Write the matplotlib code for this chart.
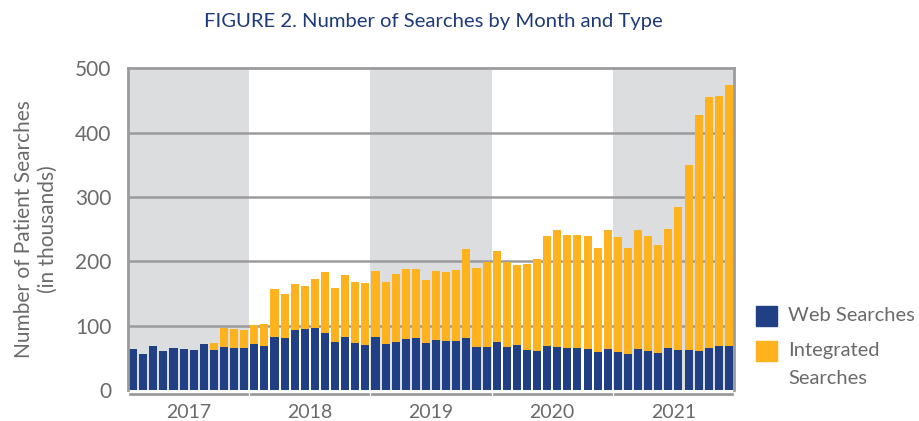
import matplotlib

matplotlib.use("Agg")
import matplotlib.pyplot as plt
from matplotlib.lines import Line2D
from matplotlib.patches import Rectangle
import numpy as np

years = ["2017", "2018", "2019", "2020", "2021"]

# total searches per month (thousands)
total = [
    64, 56.5, 69, 61, 66, 64, 63, 72, 73, 97, 95, 94,
    101, 103, 157.5, 150, 165, 162, 173, 184, 159, 179, 168, 167,
    185.5, 168, 181, 188.6, 188.6, 171.5, 185.5, 184, 187, 220, 190, 199.5,
    216.5, 199.5, 195, 196, 204, 240, 249, 241.5, 241.5, 240, 221, 249,
    238, 221, 249, 240, 226, 251, 284, 350, 427, 455, 457, 474,
]
web = [
    64, 56.5, 69, 61, 66, 64, 63, 72, 63, 67, 66, 66,
    72, 69, 83, 81, 94, 95, 97, 89, 75, 83, 73.5, 70.5,
    83, 72, 75, 80, 81, 73.5, 78, 77, 77, 81, 67, 67,
    75, 67, 70.5, 63, 61, 69, 67, 66, 66, 64, 59.6, 64,
    59.6, 56.5, 64, 61, 58, 66, 63, 63, 61, 66, 69, 69,
]
integrated = [t - w for t, w in zip(total, web)]

BLUE = "#213f85"
GOLD = "#fdb21e"
BAND = "#dcdddf"
GRID = "#9b9b9d"
TXT = "#6a6a6c"

plt.rcParams["font.family"] = ["Lato", "DejaVu Sans"]

W, H = 919, 421
fig = plt.figure(figsize=(W / 100, H / 100), dpi=100)
ax = fig.add_axes([0.1393, 0.0736, 0.6594, 0.7637])

x = np.arange(len(total))
for i in range(0, len(years), 2):
    ax.axvspan(i * 12 - 0.5, i * 12 + 11.5, color=BAND, lw=0, zorder=0)

for v in [100, 200, 300, 400]:
    ax.axhline(v, color=GRID, lw=1.8, zorder=1)

b1 = ax.bar(x, web, width=0.8, color=BLUE, zorder=2)
b2 = ax.bar(x, integrated, bottom=web, width=0.8, color=GOLD, zorder=2)

ax.set_xlim(-0.5, len(total) - 0.5)
ax.set_ylim(0, 500)
ax.set_yticks([0, 100, 200, 300, 400, 500])
ax.tick_params(axis="y", length=0, labelsize=15, labelcolor=TXT, pad=12)
ax.set_xticks([])
for s in ["left", "top", "right"]:
    ax.spines[s].set_color(GRID)
    ax.spines[s].set_linewidth(2)
ax.spines["bottom"].set_visible(False)

ax.set_ylabel("Number of Patient Searches\n(in thousands)", fontsize=15,
              color=TXT, labelpad=12, linespacing=1.3)

# year brackets under the axis
for i, yr in enumerate(years):
    ax.add_line(Line2D([i * 12 - 0.3, i * 12 + 11.3], [-0.012, -0.012],
                       transform=ax.get_xaxis_transform(), color=GRID, lw=2,
                       clip_on=False))
    ax.text(i * 12 + 5.5, -0.07, yr, transform=ax.get_xaxis_transform(),
            ha="center", va="center", fontsize=14, color=TXT)

fig.text(0.472, 0.948, "FIGURE 2. Number of Searches by Month and Type",
         ha="center", va="center", fontsize=14.6, color="#1f3a7a")

# legend, drawn by hand so the two-line label hangs from the swatch
legend_items = [(b1, "Web Searches", 316), (b2, "Integrated\nSearches", 351)]
for bars, label, ypx in legend_items:
    col = bars.patches[0].get_facecolor()
    fig.add_artist(Rectangle((756 / W, 1 - (ypx + 10) / H), 21 / W, 20 / H,
                             transform=fig.transFigure, color=col))
    fig.text(788 / W, 1 - (ypx - 9) / H, label, ha="left", va="top",
             fontsize=14.5, color=TXT, linespacing=1.75)

fig.savefig("out.png", dpi=100)
